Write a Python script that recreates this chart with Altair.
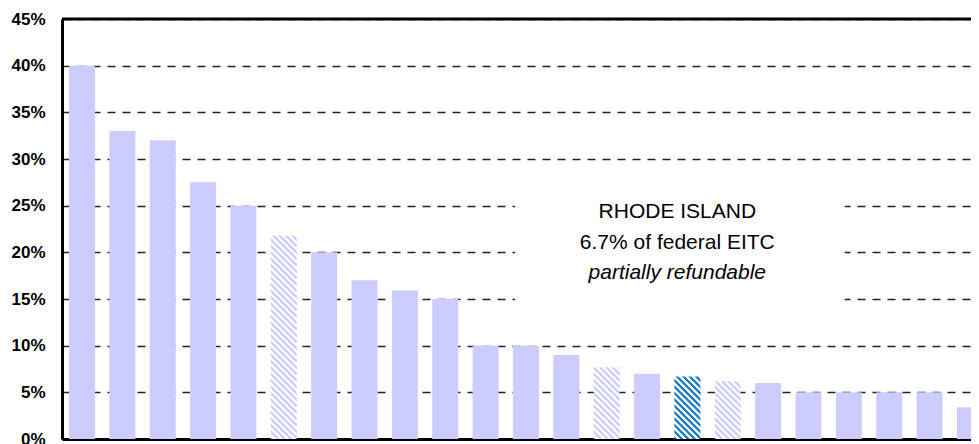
import altair as alt
import pandas as pd

# ---- data ----
states = ["DC", "MN", "VT", "NY", "NJ", "WI", "MD", "KS", "IA", "MA", "IN", "OR",
          "NE", "ME", "IL", "RI", "VA", "NC", "MI", "LA", "OK", "WA", "OH"]
values = [40, 33, 32, 27.5, 25, 21.8, 20, 17, 15.9, 15, 10, 10,
          9, 7.7, 7, 6.7, 6.2, 6, 5, 5, 5, 5, 3.4]
kinds = ["solid", "solid", "solid", "solid", "solid", "hatched", "solid", "solid",
         "solid", "solid", "solid", "solid", "solid", "hatched", "solid", "focus",
         "hatched", "solid", "solid", "solid", "solid", "solid", "solid"]
y_ticks = [0, 5, 10, 15, 20, 25, 30, 35, 40, 45]
annotation_lines = ["RHODE ISLAND", "6.7% of federal EITC", "partially refundable"]

# ---- layout / style ----
W, H = 909, 420
STEP = 40.36
HALF = 0.322
YMAX = 45
FONT = "Liberation Sans"
BAR = "#ccccff"
FOCUS = "#1a7cc6"

df = pd.DataFrame({"state": states, "value": values, "kind": kinds})
df["idx"] = range(len(df))
df["x0"] = df["idx"] - HALF
df["x1"] = df["idx"] + HALF

xscale = alt.Scale(domain=[-20 / STEP, (W - 20) / STEP], nice=False, zero=False)
yscale = alt.Scale(domain=[0, YMAX], nice=False)

xaxis = alt.Axis(labels=False, ticks=False, grid=False, title=None,
                 domainColor="black", domainWidth=3, zindex=0)
yaxis = alt.Axis(values=y_ticks, labelExpr="datum.value + '%'", title=None,
                 ticks=False, labelPadding=17, labelFont=FONT, labelFontSize=17,
                 labelFontWeight="bold", labelColor="black",
                 domainColor="black", domainWidth=3,
                 grid=True, gridColor="#222222", gridWidth=1.4, gridDash=[8, 7],
                 zindex=0)


def hatch(value, c1, c2, period=6.4):
    w = 2 * HALF * STEP
    h = value * H / YMAX
    L = w + h
    s = L / (w * w + h * h)
    stops = []
    k = 0
    while k * period / L <= 1:
        b = k * period / L
        for off, col in [(0, c1), (0.35, c1), (0.5, c2), (0.85, c2)]:
            o = b + off * period / L
            if o <= 1:
                stops.append({"offset": round(o, 5), "color": col})
        k += 1
    return {"gradient": "linear", "x1": 0, "y1": 1,
            "x2": s * w, "y2": 1 - s * h, "stops": stops}


base = alt.Chart(df).encode(
    x=alt.X("x0:Q", scale=xscale, axis=xaxis),
    x2="x1:Q",
    y=alt.Y("value:Q", scale=yscale, axis=yaxis),
    y2=alt.datum(0),
)

# white box behind the annotation
box = alt.Chart(pd.DataFrame({"a": [10.73], "b": [18.9], "lo": [12.5], "hi": [28.5]})).mark_rect(
    color="white").encode(x=alt.X("a:Q", scale=xscale), x2="b:Q",
                          y=alt.Y("lo:Q", scale=yscale), y2="hi:Q")

solid = base.mark_rect(color=BAR).transform_filter("datum.kind == 'solid'")

layers = [box, solid]
for s_, v_, k_ in zip(states, values, kinds):
    if k_ == "hatched":
        layers.append(base.mark_rect(fill=hatch(v_, BAR, "#ffffff"))
                      .transform_filter(f"datum.state == '{s_}'"))
    elif k_ == "focus":
        layers.append(base.mark_rect(fill=hatch(v_, FOCUS, "#ffffff"))
                      .transform_filter(f"datum.state == '{s_}'"))

top = alt.Chart(pd.DataFrame({"y": [YMAX]})).mark_rule(color="black", strokeWidth=3).encode(
    y=alt.Y("y:Q", scale=yscale))
layers.append(top)

for i, line in enumerate(annotation_lines):
    layers.append(
        alt.Chart(pd.DataFrame({"t": [line]})).mark_text(
            font=FONT, fontSize=21, color="black", dy=(i - 1) * 30.5,
            fontStyle="italic" if i == 2 else "normal", baseline="middle", align="center"
        ).encode(x=alt.datum(14.75), y=alt.datum(21.05), text="t:N")
    )

chart = alt.layer(*layers).properties(
    width=W, height=H,
    autosize=alt.AutoSizeParams(type="none"),
    padding={"left": 54, "top": 11, "right": 0, "bottom": 5},
).configure_view(stroke=None)

chart.save("out.html", embed_options={"renderer": "svg", "actions": False})
